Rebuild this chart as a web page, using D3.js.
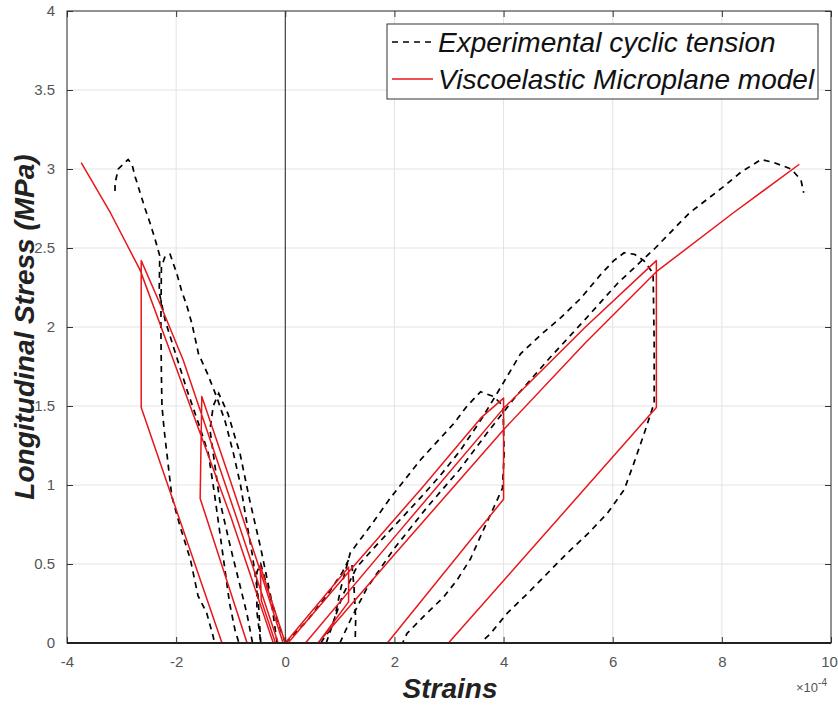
<!DOCTYPE html>
<html>
<head>
<meta charset="utf-8">
<script src="https://cdn.jsdelivr.net/npm/d3@7"></script>
<style>
  body { margin: 0; background: #fff; }
  svg { display: block; font-family: "Liberation Sans", Arial, sans-serif; }
</style>
</head>
<body>
<div id="chart"></div>
<script>
// strain in units of 1e-4, stress in MPa
const xTicks = [-4, -2, 0, 2, 4, 6, 8, 10];
const yTicks = [0, 0.5, 1, 1.5, 2, 2.5, 3, 3.5, 4];
const legendLabels = ["Experimental cyclic tension", "Viscoelastic Microplane model"];

// experimental, axial (right) side
const expAxial1 = [[0,0],[0.4,0.14],[0.8,0.32],[1.05,0.45],[1.15,0.52],[1.22,0.5],[1.26,0.35],[1.29,0.15],[1.28,0]];
const expAxial2 = [[0.75,0],[0.9,0.15],[1.02,0.35],[1.19,0.57],[1.56,0.74],[1.93,0.92],[2.48,1.16],[3.09,1.39],[3.33,1.5],[3.58,1.59],[3.82,1.56],[3.99,1.5],[4.01,1.2],[3.98,0.98],[3.85,0.88],[3.61,0.7],[3.39,0.53],[3.15,0.4],[2.9,0.29],[2.54,0.17],[2.23,0.06],[2.15,0]];
const expAxial3 = [[0.65,0],[0.85,0.1],[1.05,0.3],[1.31,0.48],[1.62,0.6],[2.05,0.76],[2.48,0.92],[2.84,1.06],[3.21,1.22],[3.6,1.42],[3.95,1.62],[4.31,1.83],[4.68,1.95],[5.05,2.06],[5.41,2.18],[5.8,2.34],[6.02,2.42],[6.21,2.47],[6.4,2.46],[6.57,2.42],[6.74,2.34],[6.76,1.9],[6.76,1.52],[6.6,1.35],[6.51,1.26],[6.39,1.14],[6.21,0.97],[5.9,0.82],[5.54,0.69],[5.17,0.57],[4.8,0.44],[4.43,0.31],[4.07,0.19],[3.76,0.06],[3.58,0]];
const expAxial4 = [[1.0,0],[1.2,0.15],[1.5,0.35],[2.0,0.6],[2.6,0.86],[3.2,1.1],[3.7,1.33],[4.2,1.55],[4.86,1.81],[5.5,2.05],[6.1,2.28],[6.78,2.5],[7.4,2.72],[8.0,2.88],[8.35,2.98],[8.72,3.06],[8.96,3.04],[9.27,3.0],[9.45,2.93],[9.5,2.85]];
const expAxialBase = [[1.28,0],[3.58,0]];

// experimental, lateral (left) side
const expLat1 = [[0,0],[-0.15,0.15],[-0.3,0.32],[-0.45,0.5],[-0.52,0.45],[-0.52,0.2],[-0.45,0]];
const expLat2 = [[-0.15,0],[-0.27,0.3],[-0.45,0.6],[-0.65,0.9],[-0.83,1.2],[-1.05,1.45],[-1.22,1.58],[-1.32,1.5],[-1.38,1.35],[-1.32,1.2],[-1.2,0.9],[-1.0,0.6],[-0.82,0.35],[-0.7,0.18],[-0.6,0]];
const expLat3 = [[-0.45,0],[-0.5,0.3],[-0.6,0.55],[-0.7,0.75],[-0.82,1.0],[-0.95,1.2],[-1.1,1.4],[-1.25,1.55],[-1.42,1.7],[-1.59,1.83],[-1.71,2.02],[-1.8,2.13],[-1.9,2.23],[-1.99,2.34],[-2.11,2.46],[-2.2,2.45],[-2.27,2.38],[-2.28,2.0],[-2.27,1.7],[-2.26,1.5],[-2.22,1.35],[-2.17,1.2],[-2.08,0.93],[-1.93,0.74],[-1.83,0.63],[-1.74,0.53],[-1.6,0.3],[-1.44,0.19],[-1.32,0.04],[-1.3,0]];
const expLat4 = [[-3.12,2.86],[-3.12,2.91],[-3.06,3.0],[-2.88,3.06],[-2.81,3.03],[-2.75,2.95],[-2.66,2.85],[-2.57,2.75],[-2.48,2.66],[-2.39,2.56],[-2.3,2.45],[-2.31,2.22],[-2.2,2.04],[-2.0,1.82],[-1.8,1.6],[-1.6,1.4],[-1.41,1.2],[-1.3,0.95],[-1.2,0.7],[-1.1,0.45],[-1.02,0.25],[-0.92,0.08],[-0.85,0]];

// viscoelastic microplane model
const modelAxial = [[0,0],[1.16,0.48],[1.16,0.26],[0.6,0],[0.05,0],[1.16,0.45],[2.5,0.98],[3.6,1.43],[4.0,1.55],[4.0,0.91],[1.87,0],[0.37,0],[2.0,0.67],[4.0,1.485],[5.5,2.0],[6.8,2.42],[6.8,1.49],[2.99,0],[0.6,0],[2.0,0.56],[4.0,1.35],[5.5,1.9],[6.8,2.35],[8.2,2.72],[9.42,3.03]];
const modelLat = [[0,0],[-0.46,0.49],[-0.44,0.27],[-0.18,0],[-0.04,0],[-0.5,0.5],[-1.0,1.02],[-1.53,1.56],[-1.56,0.915],[-0.7,0],[-0.13,0],[-0.9,0.8],[-1.87,1.79],[-2.3,2.15],[-2.64,2.42],[-2.64,1.49],[-1.16,0],[-0.22,0],[-1.0,0.8],[-2.05,1.79],[-2.66,2.36],[-3.2,2.72],[-3.74,3.04]];

const expSeries = [expAxial1, expAxial2, expAxial3, expAxial4, expAxialBase, expLat1, expLat2, expLat3, expLat4];
const modelSeries = [modelAxial, modelLat];

const W = 838, H = 706;
const margin = { top: 11, right: 7, bottom: 63, left: 67 };

const svg = d3.select("#chart").append("svg")
  .attr("width", W)
  .attr("height", H);

const x = d3.scaleLinear().domain([-4, 10]).range([margin.left, W - margin.right]);
const y = d3.scaleLinear().domain([0, 4]).range([H - margin.bottom, margin.top]);

const x0 = x.range()[0], x1 = x.range()[1], y0 = y.range()[0], y1 = y.range()[1];

// grid
svg.append("g").selectAll("line").data(xTicks).join("line")
  .attr("x1", d => x(d)).attr("x2", d => x(d))
  .attr("y1", y1).attr("y2", y0)
  .attr("stroke", "#e3e3e3").attr("stroke-width", 1);
svg.append("g").selectAll("line").data(yTicks).join("line")
  .attr("x1", x0).attr("x2", x1)
  .attr("y1", d => y(d)).attr("y2", d => y(d))
  .attr("stroke", "#e3e3e3").attr("stroke-width", 1);

// zero strain line
svg.append("line")
  .attr("x1", x(0)).attr("x2", x(0))
  .attr("y1", y1).attr("y2", y0)
  .attr("stroke", "#222").attr("stroke-width", 1);

const line = d3.line().x(d => x(d[0])).y(d => y(d[1]));

svg.append("g").selectAll("path").data(expSeries).join("path")
  .attr("d", line)
  .attr("fill", "none")
  .attr("stroke", "#000")
  .attr("stroke-width", 1.7)
  .attr("stroke-dasharray", "6,5");

svg.append("g").selectAll("path").data(modelSeries).join("path")
  .attr("d", line)
  .attr("fill", "none")
  .attr("stroke", "#e8161b")
  .attr("stroke-width", 1.5)
  .attr("stroke-linejoin", "round");

// axes (ticks inside, box)
const tickCol = "#555";
const fmt = d => String(d);
svg.append("g")
  .attr("class", "xaxis")
  .attr("transform", "translate(0," + y0 + ")")
  .call(d3.axisBottom(x).tickValues(xTicks).tickSizeInner(-6).tickSizeOuter(0).tickPadding(13).tickFormat(fmt))
  .call(g => g.select(".domain").remove());
svg.append("g")
  .attr("transform", "translate(0," + y1 + ")")
  .call(d3.axisTop(x).tickValues(xTicks).tickSizeInner(-6).tickSizeOuter(0).tickFormat(""))
  .call(g => g.select(".domain").remove());
svg.append("g")
  .attr("transform", "translate(" + x0 + ",0)")
  .call(d3.axisLeft(y).tickValues(yTicks).tickSizeInner(-6).tickSizeOuter(0).tickPadding(12).tickFormat(fmt))
  .call(g => g.select(".domain").remove());
svg.append("g")
  .attr("transform", "translate(" + x1 + ",0)")
  .call(d3.axisRight(y).tickValues(yTicks).tickSizeInner(-6).tickSizeOuter(0).tickFormat(""))
  .call(g => g.select(".domain").remove());

svg.selectAll(".tick line").attr("stroke", "#333");
svg.selectAll(".tick text")
  .attr("fill", tickCol)
  .style("font-size", "15px")
  .style("font-family", "'Liberation Sans', Arial, sans-serif");
// keep the last x label inside the picture
svg.selectAll(".xaxis .tick text").filter(d => d === 10).attr("dx", "-2px");

svg.append("rect")
  .attr("x", x0).attr("y", y1)
  .attr("width", x1 - x0).attr("height", y0 - y1)
  .attr("fill", "none").attr("stroke", "#333").attr("stroke-width", 1);
svg.append("line")
  .attr("x1", x0).attr("x2", x1).attr("y1", y0).attr("y2", y0)
  .attr("stroke", "#222").attr("stroke-width", 2);

// exponent label
const expo = svg.append("text")
  .attr("x", 796).attr("y", 692)
  .attr("fill", tickCol)
  .style("font-size", "13px");
expo.append("tspan").text("\u00d710");
expo.append("tspan").attr("dy", -6).style("font-size", "10px").text("-4");

// axis titles
svg.append("text")
  .attr("x", (x0 + x1) / 2 + 1).attr("y", 698)
  .attr("text-anchor", "middle")
  .attr("fill", "#222")
  .style("font-size", "28px").style("font-weight", "bold").style("font-style", "italic")
  .text("Strains");
svg.append("text")
  .attr("transform", "translate(34," + ((y0 + y1) / 2) + ") rotate(-90)")
  .attr("text-anchor", "middle")
  .attr("fill", "#222")
  .style("font-size", "28px").style("font-weight", "bold").style("font-style", "italic")
  .text("Longitudinal Stress (MPa)");

// legend
const lg = svg.append("g");
lg.append("rect")
  .attr("x", 387).attr("y", 24).attr("width", 431).attr("height", 75)
  .attr("fill", "#fff").attr("stroke", "#333").attr("stroke-width", 1);
const items = [
  { label: legendLabels[0], color: "#000", dash: "6,5", w: 1.7, y: 42 },
  { label: legendLabels[1], color: "#e8161b", dash: null, w: 1.6, y: 79 }
];
items.forEach(it => {
  lg.append("line")
    .attr("x1", 392).attr("x2", 433).attr("y1", it.y).attr("y2", it.y)
    .attr("stroke", it.color).attr("stroke-width", it.w)
    .attr("stroke-dasharray", it.dash);
  lg.append("text")
    .attr("x", 438).attr("y", it.y + 10)
    .attr("fill", "#111")
    .style("font-size", "28px").style("font-style", "italic")
    .text(it.label);
});
</script>
</body>
</html>
